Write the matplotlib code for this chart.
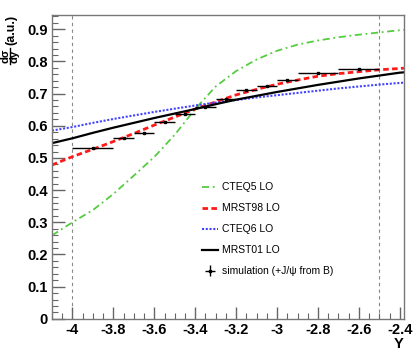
import matplotlib
matplotlib.use("Agg")
import matplotlib.pyplot as plt
from matplotlib.lines import Line2D
from matplotlib.ticker import MultipleLocator, FuncFormatter

plt.rcParams['font.family'] = ['Liberation Sans', 'DejaVu Sans']

# theory curves, values
y_grid = [-4.1, -4.0, -3.9, -3.8, -3.7, -3.6, -3.5, -3.4, -3.3, -3.2,
          -3.1, -3.0, -2.9, -2.8, -2.7, -2.6, -2.5, -2.4, -2.38]
cteq5 = [0.259, 0.300, 0.338, 0.388, 0.445, 0.503, 0.572, 0.652, 0.722, 0.770,
         0.806, 0.833, 0.852, 0.865, 0.875, 0.883, 0.890, 0.897, 0.898]
mrst98 = [0.478, 0.504, 0.527, 0.551, 0.576, 0.602, 0.627, 0.652, 0.674, 0.696,
          0.713, 0.729, 0.742, 0.754, 0.762, 0.768, 0.774, 0.778, 0.779]
cteq6 = [0.585, 0.596, 0.609, 0.621, 0.632, 0.643, 0.653, 0.663, 0.672, 0.680,
         0.688, 0.695, 0.702, 0.709, 0.716, 0.722, 0.728, 0.733, 0.734]
mrst01 = [0.546, 0.561, 0.578, 0.594, 0.609, 0.624, 0.638, 0.652, 0.667, 0.681,
          0.693, 0.705, 0.716, 0.727, 0.737, 0.747, 0.756, 0.765, 0.766]

# simulation points
sim_y = [-3.9, -3.75, -3.65, -3.55, -3.45, -3.35, -3.25, -3.15, -3.05, -2.95, -2.8, -2.6]
sim_xerr = [0.1, 0.05, 0.05, 0.05, 0.05, 0.05, 0.05, 0.05, 0.05, 0.05, 0.1, 0.1]
sim_val = [0.530, 0.563, 0.576, 0.611, 0.636, 0.657, 0.683, 0.712, 0.723, 0.742, 0.763, 0.775]
sim_err = [0.003] * 12

acceptance = [-4.0, -2.5]

fig = plt.figure(figsize=(4.19, 3.5), dpi=100)
ax = fig.add_axes([0.124, 0.089, 0.840, 0.868])

for xv in acceptance:
    ax.axvline(xv, color='#888888', lw=0.8, ls=(0, (3, 3)), zorder=1)

ax.plot(y_grid, cteq5, color='#55cc40', lw=1.3, ls=(0, (4, 2, 1, 2)), label='CTEQ5 LO')
ax.plot(y_grid, mrst98, color='#ff1a1a', lw=2.0, ls=(0, (2, 1.2)), label='MRST98 LO')
ax.plot(y_grid, cteq6, color='#4444ff', lw=1.5, ls=(0, (1, 0.8)), label='CTEQ6 LO')
ax.plot(y_grid, mrst01, color='black', lw=1.6, label='MRST01 LO')
ax.errorbar(sim_y, sim_val, xerr=sim_xerr, yerr=sim_err, fmt='s', ms=2,
            color='black', ecolor='black', elinewidth=1.0, capsize=0,
            label='simulation (+J/\u03c8 from B)')

short = FuncFormatter(lambda v, p: '%g' % round(v, 3))
ax.xaxis.set_major_locator(MultipleLocator(0.2))
ax.xaxis.set_minor_locator(MultipleLocator(0.05))
ax.yaxis.set_major_locator(MultipleLocator(0.1))
ax.yaxis.set_minor_locator(MultipleLocator(0.02))
ax.xaxis.set_major_formatter(short)
ax.yaxis.set_major_formatter(short)
ax.tick_params(which='both', direction='in', color='#666666', top=False, right=False)
ax.tick_params(which='major', length=9, width=1.0, labelsize=10.5, pad=3)
ax.tick_params(which='minor', length=4.5, width=0.8)
ax.set_xlim(-4.1, -2.38)
ax.set_ylim(0, 0.944)
for lab in ax.get_xticklabels() + ax.get_yticklabels():
    lab.set_fontweight('bold')

for sp in ax.spines.values():
    sp.set_color('#777777')
    sp.set_linewidth(1.0)

# y title built by hand: d sigma over dy, then (a.u.)
fig.text(0.026, 0.957, '(a.u.)', rotation=90, ha='center', va='top',
         fontsize=9, fontweight='bold')
fig.text(0.024, 0.84, 'd\u03c3\ndy', rotation=90, ha='center', va='center',
         multialignment='center', linespacing=0.95, fontsize=8, fontweight='bold')
fig.add_artist(Line2D([0.023, 0.023], [0.817, 0.863], transform=fig.transFigure,
                      color='black', lw=1.0))
fig.text(0.952, 0.017, 'Y', ha='center', va='center', fontsize=10.5, fontweight='bold')

ax.legend(loc='upper left', bbox_to_anchor=(0.40, 0.48), frameon=False,
          fontsize=7.5, handlelength=1.5, handletextpad=0.4, labelspacing=1.05)

fig.savefig('out.png', dpi=100)
